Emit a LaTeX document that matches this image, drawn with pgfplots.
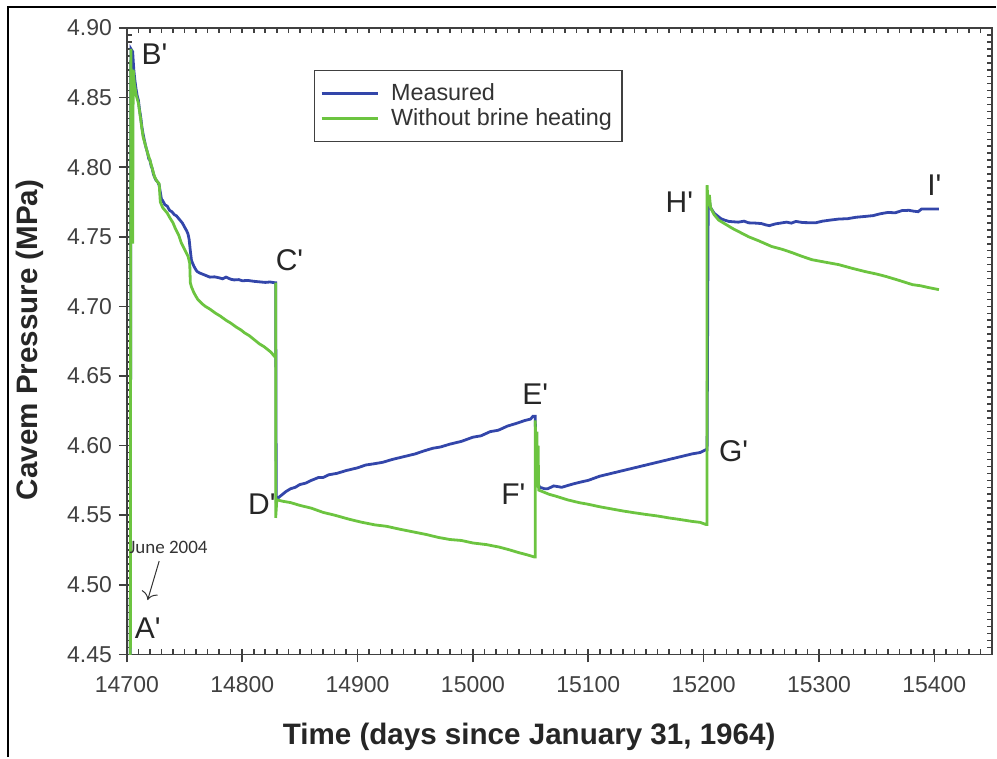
\documentclass[border=0pt]{standalone}
\usepackage{fontspec}
\setmainfont{Liberation Sans}[Ligatures=TeXOff]
\newfontfamily\carlito{Carlito}
\usepackage{pgfplots}
\pgfplotsset{compat=1.18}
\usetikzlibrary{arrows.meta}
\definecolor{meas}{RGB}{51,70,170}
\definecolor{nobrine}{RGB}{108,196,64}
\definecolor{axgray}{RGB}{64,64,64}

% measured cavern pressure (days, MPa)
\pgfplotstableread{
t p
14703 4.44
14703.5 4.885
14705 4.883
14706 4.870
14707 4.862
14708 4.856
14709 4.851
14710 4.848
14711 4.841
14712 4.836
14713 4.829
14714 4.824
14715 4.820
14716 4.816
14717 4.813
14718 4.810
14719 4.806
14720 4.805
14721 4.801
14722 4.799
14723 4.795
14724 4.793
14725 4.791
14726 4.790
14727 4.789
14728 4.787
14729 4.782
14730 4.777
14731 4.776
14733 4.773
14735 4.772
14737 4.769
14739 4.768
14741 4.766
14743 4.765
14746 4.762
14748 4.760
14750 4.757
14752 4.754
14753 4.752
14754 4.748
14755 4.740
14756 4.733
14757 4.731
14758 4.729
14760 4.726
14761 4.725
14763 4.724
14766 4.723
14769 4.722
14772 4.721
14776 4.7212
14780 4.7205
14783 4.7198
14786 4.7210
14790 4.7195
14793 4.7190
14797 4.7192
14800 4.7184
14805 4.7186
14810 4.7180
14815 4.7176
14820 4.7172
14824 4.7175
14828 4.717
14829 4.717
14829.5 4.561
14832 4.563
14835 4.565
14838 4.567
14842 4.569
14846 4.570
14850 4.572
14855 4.573
14860 4.575
14866 4.577
14870 4.577
14875 4.579
14882 4.580
14890 4.582
14895 4.583
14900 4.584
14907 4.586
14915 4.587
14922 4.588
14930 4.590
14940 4.592
14950 4.594
14957 4.596
14965 4.598
14972 4.599
14980 4.601
14990 4.603
15000 4.606
15007 4.607
15015 4.610
15022 4.611
15030 4.614
15038 4.616
15045 4.618
15050 4.619
15052 4.621
15054 4.621
15055 4.575
15058 4.570
15062 4.569
15065 4.569
15070 4.571
15077 4.570
15085 4.572
15092 4.5735
15100 4.575
15110 4.578
15120 4.580
15130 4.582
15140 4.584
15150 4.586
15160 4.588
15170 4.590
15180 4.592
15190 4.594
15197 4.595
15202 4.597
15203 4.597
15204 4.780
15206 4.771
15209 4.767
15212 4.765
15215 4.763
15218 4.762
15222 4.761
15230 4.7605
15235 4.7612
15239 4.760
15245 4.7598
15250 4.7595
15254 4.7585
15257 4.758
15262 4.7592
15268 4.760
15272 4.7605
15276 4.7598
15280 4.761
15286 4.7602
15292 4.7601
15297 4.760
15303 4.7612
15310 4.7620
15317 4.7627
15325 4.7630
15332 4.7640
15340 4.7646
15347 4.7652
15353 4.7665
15360 4.7675
15366 4.7672
15372 4.7688
15378 4.769
15382 4.7684
15386 4.768
15389 4.770
15404 4.770
}\measured

% simulated, without brine heating
\pgfplotstableread{
t p
14703 4.44
14703.5 4.885
14704.5 4.80
14705 4.745
14705.5 4.870
14706.5 4.860
14708 4.852
14710 4.846
14712 4.834
14714 4.822
14716 4.816
14718 4.810
14720 4.805
14722 4.799
14724 4.793
14726 4.790
14728 4.788
14729 4.775
14731 4.771
14733 4.769
14735 4.767
14737 4.764
14740 4.760
14742 4.756
14745 4.751
14747 4.746
14750 4.741
14753 4.736
14754.5 4.731
14755 4.717
14756 4.714
14758 4.710
14760 4.707
14761.5 4.705
14765 4.702
14768 4.700
14772 4.698
14777 4.695
14781 4.693
14786 4.690
14790 4.688
14795 4.685
14799 4.683
14802 4.681
14806 4.679
14809 4.677
14812 4.675
14815 4.673
14819 4.671
14822 4.669
14825 4.667
14828 4.664
14829 4.664
14829 4.717
14829 4.548
14830 4.561
14835 4.560
14842 4.559
14850 4.557
14860 4.555
14870 4.552
14880 4.550
14893 4.547
14903 4.545
14915 4.543
14925 4.542
14936 4.540
14948 4.538
14960 4.536
14970 4.534
14980 4.5325
14990 4.5318
15000 4.530
15012 4.5288
15023 4.527
15032 4.525
15040 4.523
15047 4.5215
15053 4.520
15054 4.520
15054 4.618
15055 4.580
15055.5 4.610
15056 4.570
15056.5 4.600
15057 4.568
15060 4.567
15066 4.565
15072 4.5636
15082 4.561
15092 4.559
15100 4.5578
15110 4.556
15120 4.5545
15130 4.553
15140 4.5517
15150 4.5505
15160 4.5494
15170 4.548
15180 4.5468
15190 4.5455
15197 4.5448
15202 4.5433
15203 4.5433
15203 4.787
15204 4.772
15205 4.780
15206 4.771
15209 4.766
15213 4.762
15217 4.760
15221 4.758
15225 4.756
15232 4.753
15239 4.750
15248 4.747
15259 4.743
15268 4.741
15277 4.7385
15285 4.736
15294 4.7335
15305 4.7318
15317 4.730
15328 4.7275
15340 4.725
15350 4.7232
15358 4.7215
15370 4.7185
15381 4.7156
15388 4.7148
15395 4.7135
15404 4.712
}\nobrine

\begin{document}
\begin{tikzpicture}
\path (0pt,0pt) rectangle (498.5pt,379pt);
\draw[line width=1pt] (4pt,0pt) -- (4pt,375.5pt) -- (498.5pt,375.5pt);
% small inward ticks on all four sides
\begin{axis}[
  scale only axis, width=433pt, height=313.5pt,
  xmin=14700, xmax=15450, ymin=4.45, ymax=4.90,
  at={(63.5pt,51.5pt)}, anchor=south west,
  axis line style={draw=none},
  xtick={14710,14720,...,15440}, ytick={4.455,4.460,...,4.895},
  tick pos=both, tick align=inside,
  major tick length=2.6pt,
  major tick style={draw=axgray, line width=0.8pt},
  xticklabels={}, yticklabels={}, scaled ticks=false,
]
\end{axis}
\begin{axis}[
  scale only axis, width=433pt, height=313.5pt,
  xmin=14700, xmax=15450, ymin=4.45, ymax=4.90,
  at={(63.5pt,51.5pt)}, anchor=south west,
  scaled ticks=false,
  axis line style={axgray, line width=0.8pt},
  tick pos=left, tick align=outside,
  major tick length=4pt,
  major tick style={draw=axgray, line width=0.8pt},
  xtick={14700,14800,...,15400},
  ytick={4.45,4.50,4.55,4.60,4.65,4.70,4.75,4.80,4.85,4.90},
  /pgf/number format/assume math mode=true,
  xticklabel style={font=\fontsize{11.5}{13}\selectfont, text=axgray,
    /pgf/number format/set thousands separator={}, yshift=-3.5pt},
  yticklabel style={font=\fontsize{11.5}{13}\selectfont, text=axgray,
    /pgf/number format/.cd, fixed, fixed zerofill, precision=2},
  xlabel={Time (days since January 31, 1964)},
  ylabel={Cavem Pressure (MPa)},
  xlabel style={font=\bfseries\fontsize{14.8}{16}\selectfont, text=black!85,
    at={(rel axis cs:0.465,0)}, anchor=center, yshift=-41.5pt},
  ylabel style={font=\bfseries\fontsize{14.8}{16}\selectfont, text=black!85,
    at={(rel axis cs:0,0.502)}, anchor=center, yshift=48.5pt},
  legend style={at={(rel axis cs:0.216,0.933)}, anchor=north west,
    draw=axgray, line width=0.6pt, font=\fontsize{11.7}{13}\selectfont,
    text=black!80, inner xsep=3pt, inner ysep=4.5pt, row sep=-1.5pt},
  legend cell align=left,
  legend image code/.code={\draw[#1, line width=1.4pt] (0pt,0pt) -- (28pt,0pt);
    \path (32pt,0pt);},
]
\addplot[meas, line width=1.4pt] table[x=t, y=p] {\measured};
\addlegendentry{Measured}
\addplot[nobrine, line width=1.4pt] table[x=t, y=p] {\nobrine};
\addlegendentry{Without brine heating}

\begin{scope}[font=\fontsize{15}{15}\selectfont, text=black!85]
\node at (axis cs:14724,4.881) {B'};
\node at (axis cs:14841,4.733) {C'};
\node at (axis cs:14817,4.558) {D'};
\node at (axis cs:15054,4.637) {E'};
\node at (axis cs:15035,4.565) {F'};
\node at (axis cs:15226,4.596) {G'};
\node at (axis cs:15179,4.775) {H'};
\node at (axis cs:15400,4.787) {I'};
\node at (axis cs:14718,4.469) {A'};
\end{scope}
\node[font=\carlito\fontsize{9.5}{10}\selectfont, text=black!80] at (axis cs:14736,4.527) {June 2004};
\draw[-{To[length=4pt]}, black!80, line width=0.5pt] (axis cs:14728,4.517) -- (axis cs:14718,4.489);
\end{axis}
\end{tikzpicture}
\end{document}
